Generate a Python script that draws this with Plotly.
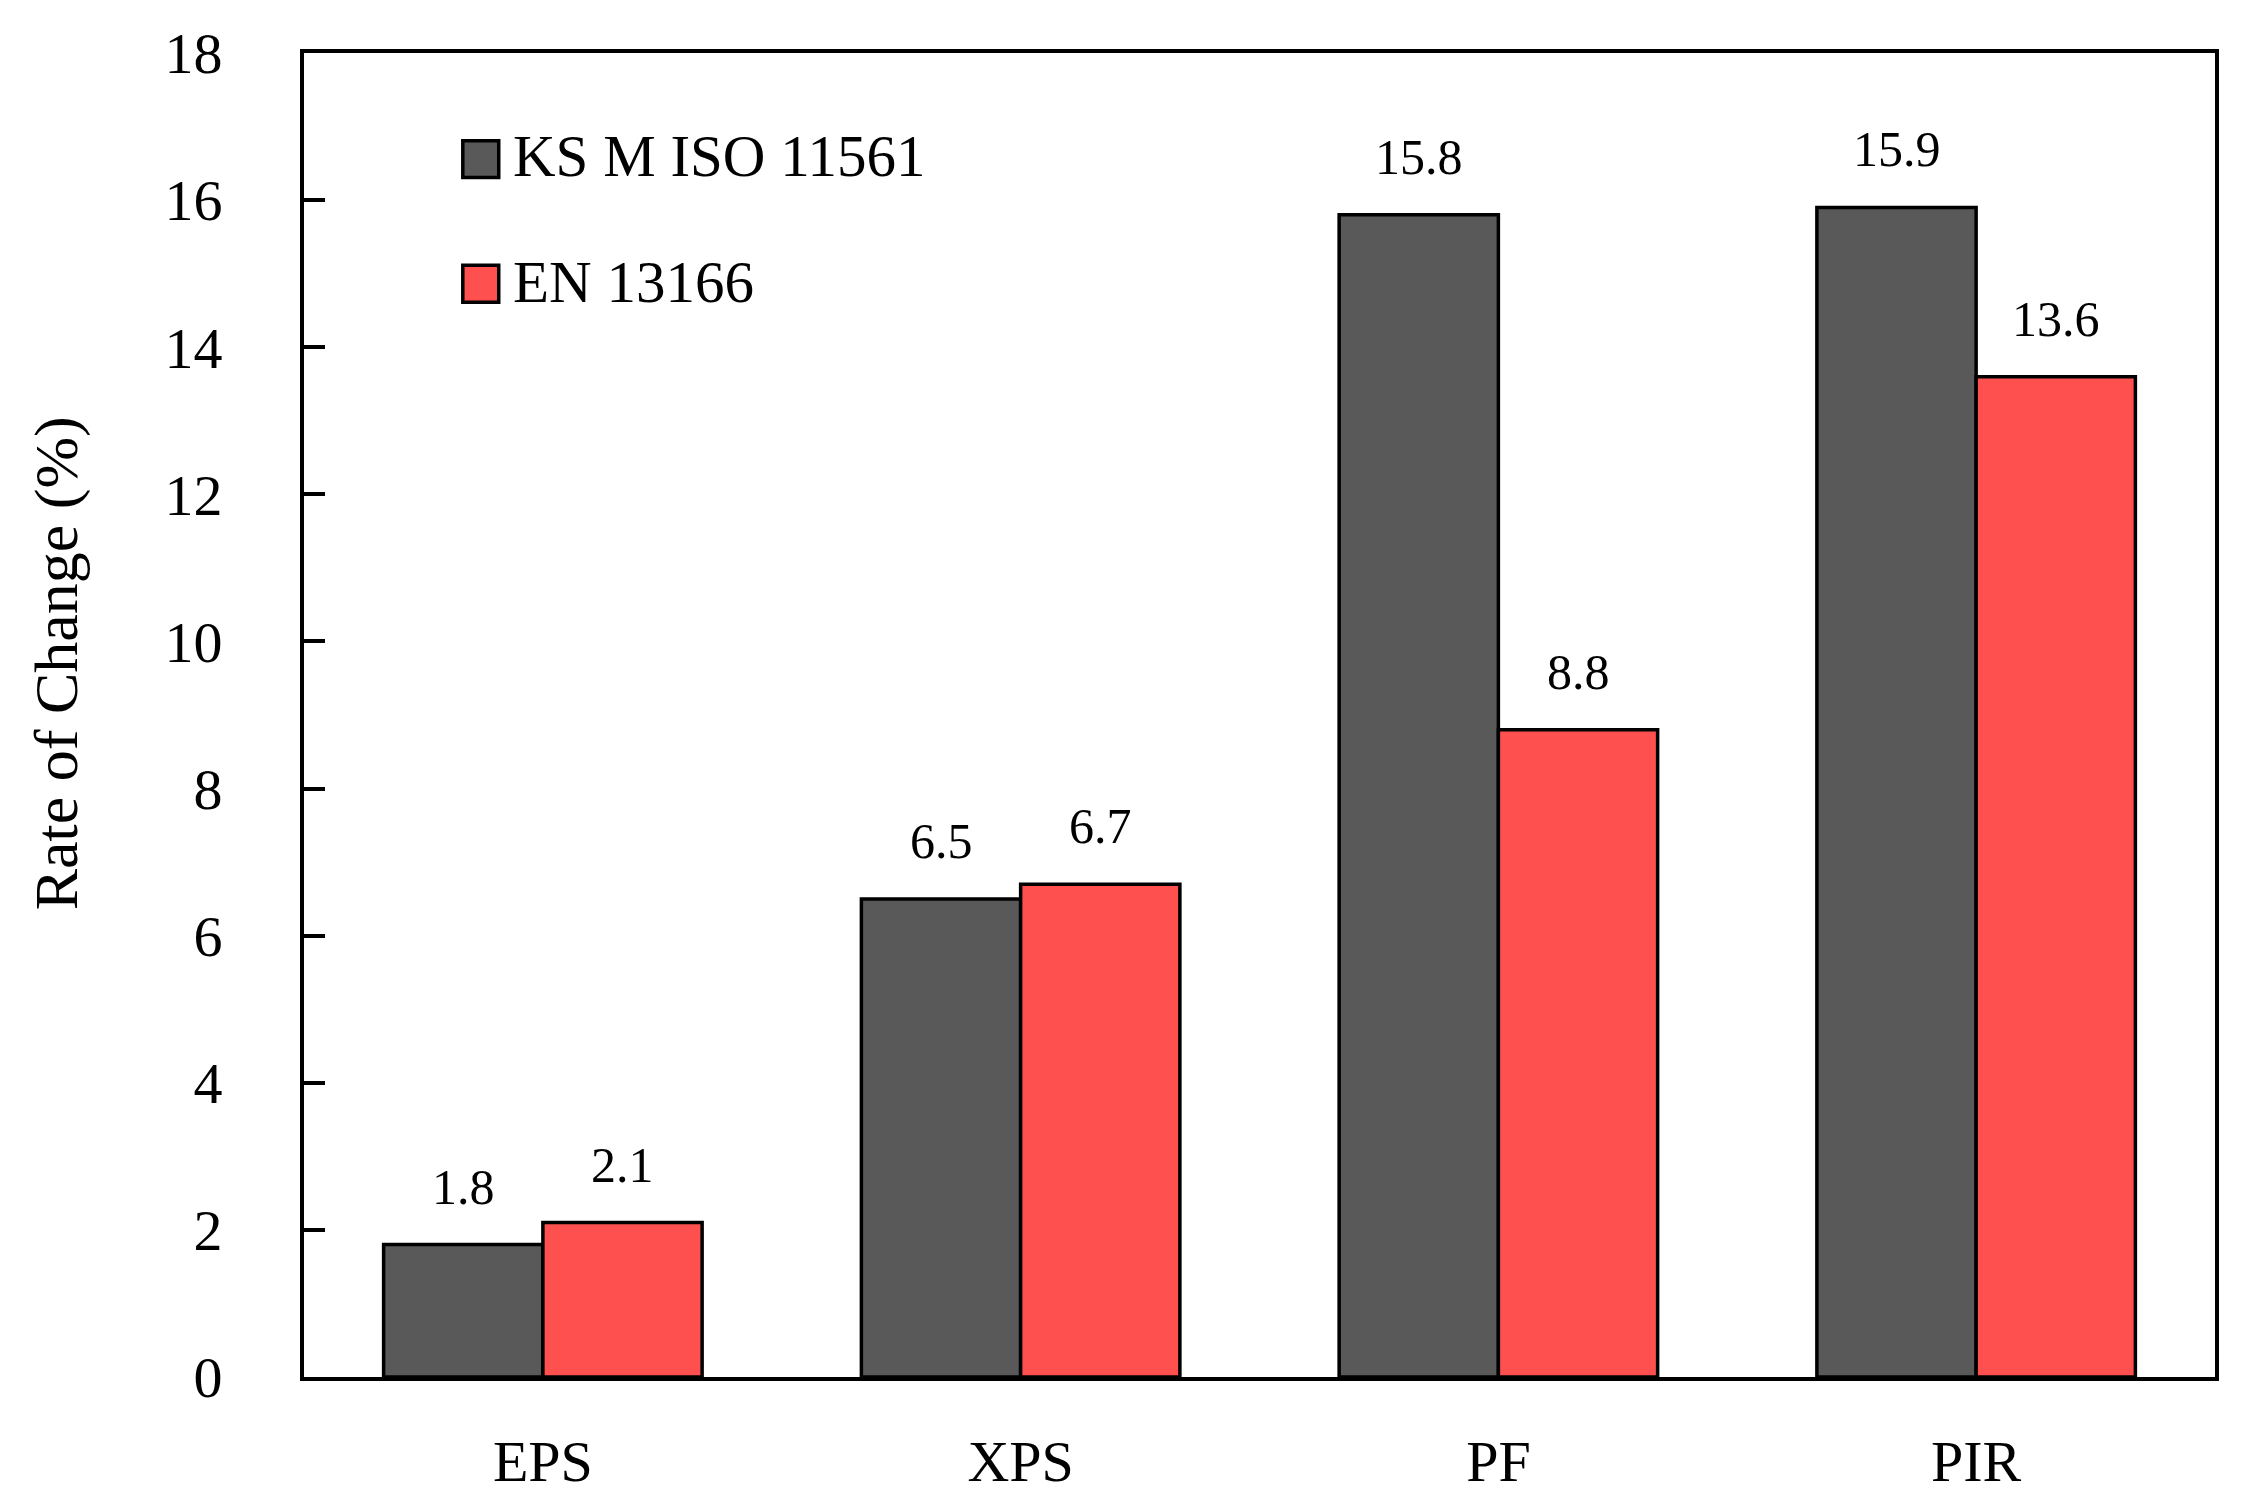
import plotly.graph_objects as go

categories = ["EPS", "XPS", "PF", "PIR"]
ks_values = [1.8, 6.5, 15.8, 15.9]
en_values = [2.1, 6.7, 8.8, 13.6]
series_names = ["KS M ISO 11561", "EN 13166"]
y_ticks = [0, 2, 4, 6, 8, 10, 12, 14, 16, 18]

DARK = "#595959"
RED = "#FF5050"
FONT = "Liberation Serif"
BARGAP = 1 / 3

x_idx = list(range(len(categories)))

fig = go.Figure()
fig.add_trace(go.Bar(x=x_idx, y=ks_values, name=series_names[0], marker=dict(color=DARK, line=dict(color="black", width=3.5)), showlegend=False))
fig.add_trace(go.Bar(x=x_idx, y=en_values, name=series_names[1], marker=dict(color=RED, line=dict(color="black", width=3.5)), showlegend=False))

half = (1 - BARGAP) / 4
annotations = []
for i, v in enumerate(ks_values):
    annotations.append(dict(x=i - half, y=v, text=f"{v:.1f}", showarrow=False, yshift=58,
                            font=dict(family=FONT, size=50, color="black")))
for i, v in enumerate(en_values):
    annotations.append(dict(x=i + half, y=v, text=f"{v:.1f}", showarrow=False, yshift=58,
                            font=dict(family=FONT, size=50, color="black")))

# y-axis title
annotations.append(dict(xref="paper", yref="paper", x=0, y=0.539, xshift=-248, text="Rate of Change (%)",
                        textangle=-90, showarrow=False, xanchor="center", yanchor="middle",
                        font=dict(family=FONT, size=62, color="black")))

# manual legend
shapes = []
legend_items = [(series_names[0], DARK, 0.9337, 0.9059, 0.922), (series_names[1], RED, 0.8396, 0.8117, 0.827)]
for name, col, ytop, ybot, ytxt in legend_items:
    shapes.append(dict(type="rect", xref="paper", yref="paper", x0=0.0831, x1=0.1019, y0=ybot, y1=ytop,
                       fillcolor=col, line=dict(color="black", width=3.5)))
    annotations.append(dict(xref="paper", yref="paper", x=0.1085, y=ytxt, text=name, showarrow=False,
                            xanchor="left", yanchor="middle", font=dict(family=FONT, size=59, color="black")))

fig.update_layout(
    width=2235, height=1490,
    margin=dict(l=296, r=28, t=45, b=121),
    paper_bgcolor="white", plot_bgcolor="white",
    barmode="group", bargap=BARGAP, bargroupgap=0,
    annotations=annotations, shapes=shapes,
    font=dict(family=FONT, size=58, color="black"),
)
fig.update_xaxes(range=[-0.5, 3.5], tickvals=x_idx, ticktext=categories, showgrid=False, zeroline=False,
                 showline=True, linecolor="black", linewidth=4, mirror=True, ticks="",
                 tickfont=dict(family=FONT, size=58), ticklabelstandoff=30, automargin=False)
fig.update_yaxes(range=[0, 18], tickvals=y_ticks, showgrid=False, zeroline=False,
                 showline=True, linecolor="black", linewidth=4, mirror=True, ticks="inside",
                 ticklen=21, tickwidth=4, tickcolor="black",
                 tickfont=dict(family=FONT, size=58), ticklabelstandoff=66, automargin=False)

fig.write_html("out.html")
